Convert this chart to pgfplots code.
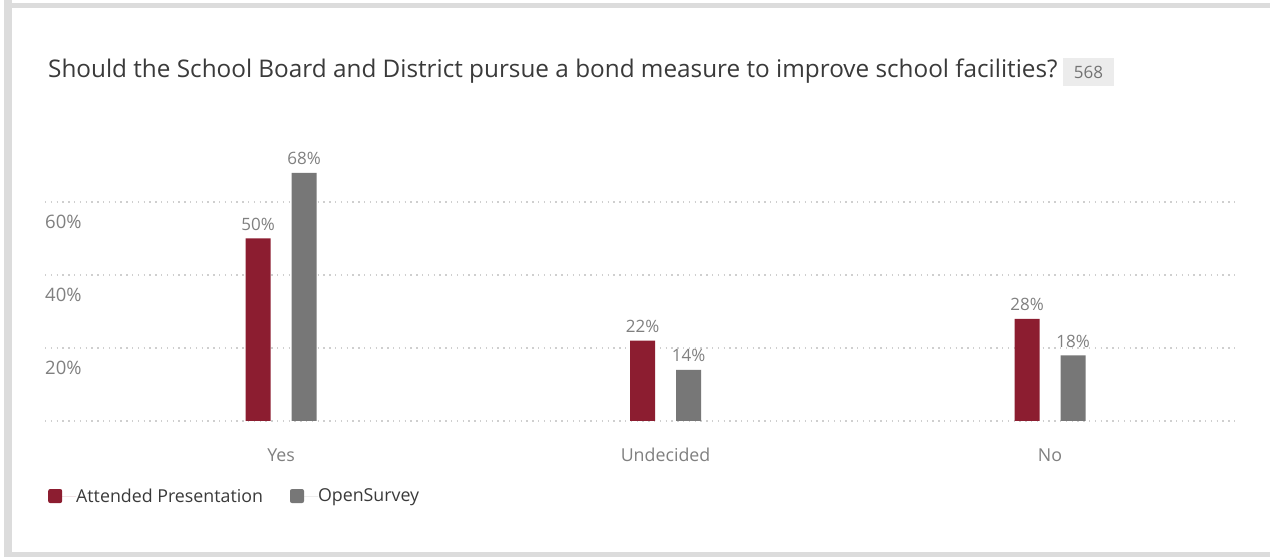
\documentclass[border=0pt]{standalone}
\usepackage{fontspec}
\setmainfont{Open Sans}
\usepackage{pgfplots}
\pgfplotsset{compat=1.18}
\definecolor{barred}{HTML}{8C1D30}
\definecolor{bargray}{HTML}{777777}
\definecolor{framegray}{HTML}{DCDCDC}
\definecolor{labgray}{HTML}{808080}
\definecolor{titlegray}{HTML}{3A3A3A}
\definecolor{gridgray}{HTML}{CFCFCF}
\definecolor{badge}{HTML}{ECECEC}
\begin{document}
\begin{tikzpicture}[x=1bp,y=1bp]
% page and frame
\fill[white] (0,0) rectangle (1270,557);
\fill[framegray] (4,0) rectangle (12,557);
\fill[framegray] (4,549) rectangle (1270,554);
\fill[framegray] (4,0) rectangle (1270,5);
% title
\node[anchor=base west, inner sep=0pt, text=titlegray, font=\fontsize{24.3bp}{28bp}\selectfont] at (48,479) {Should the School Board and District pursue a bond measure to improve school facilities?};
\fill[badge] (1063,471) rectangle (1114,499);
\node[anchor=center, inner sep=0pt, text=labgray!90!black, font=\fontsize{17bp}{20bp}\selectfont] at (1088.5,485) {568};
\begin{axis}[
  at={(45bp,136bp)}, anchor=south west,
  scale only axis, width=1193bp, height=292bp,
  xmin=-0.614, xmax=2.489, ymin=0, ymax=80,
  ybar, bar width=25bp,
  /pgf/number format/assume math mode=true,
  axis line style={draw=none}, tick style={draw=none},
  ymajorgrids, major grid style={gridgray, line width=1.3bp, dash pattern=on 1.3bp off 4.5bp},
  ytick={0,20,40,60}, yticklabels={,20\%,40\%,60\%},
  yticklabel style={anchor=base west, inner sep=0pt, yshift=-27bp, text=labgray, font=\fontsize{18.5bp}{21bp}\selectfont},
  xtick={0,1,2}, xticklabels={Yes,Undecided,No},
  xticklabel style={anchor=base, inner sep=0pt, yshift=-36bp, text=labgray, font=\fontsize{17.8bp}{21bp}\selectfont},
  nodes near coords={\pgfmathprintnumber{\pgfplotspointmeta}\%},
  every node near coord/.append style={anchor=base, inner sep=0pt, yshift=8bp, text=labgray, font=\fontsize{17bp}{20bp}\selectfont},
  legend style={at={(axis description cs:0.0025,-0.257)}, anchor=west, draw=none, fill=none, inner sep=0pt,
    legend columns=2, font=\fontsize{17.8bp}{21bp}\selectfont, text=titlegray,
    /tikz/every even column/.append style={column sep=27bp},
    nodes={inner sep=0pt}},
  legend image code/.code={\fill[#1, rounded corners=2bp] (0bp,-7bp) rectangle (14bp,7bp); \path (0bp,0bp) -- (28bp,0bp);},
  clip=false,
]
\addplot+[fill=barred, draw=none, bar shift=-23bp] coordinates {(0,50) (1,22) (2,28)};
\addplot+[fill=bargray, draw=none, bar shift=23bp] coordinates {(0,68) (1,14) (2,18)};
\legend{Attended Presentation, OpenSurvey}
\end{axis}
\end{tikzpicture}
\end{document}
